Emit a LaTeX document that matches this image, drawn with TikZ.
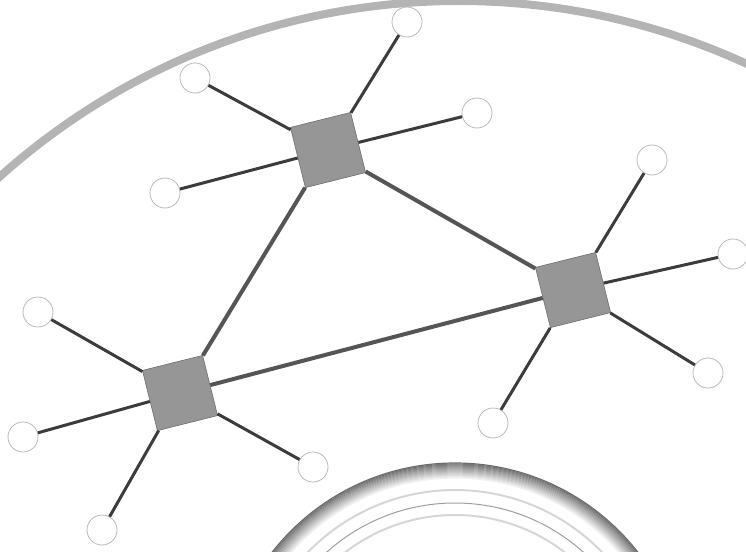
\documentclass[tikz,border=0pt]{standalone}
\usepackage{tikz}
\definecolor{hubgray}{RGB}{150,150,150}
\definecolor{hubedge}{RGB}{110,110,110}
\definecolor{leafedge}{RGB}{185,185,185}
\definecolor{spokegray}{RGB}{60,60,60}
\definecolor{linkgray}{RGB}{85,85,85}
\definecolor{ringgray}{RGB}{180,180,180}

\begin{document}
\begin{tikzpicture}[
  x=1pt, y=-1pt,
  hub/.style={draw=hubedge, fill=hubgray, line width=0.6pt, rotate=14, minimum size=62pt, inner sep=0pt},
  leaf/.style={circle, draw=leafedge, fill=white, line width=0.8pt, minimum size=30pt, inner sep=0pt},
  spoke/.style={draw=spokegray, line width=3pt},
  link/.style={draw=linkgray, line width=4pt}
]
\useasboundingbox (0,0) rectangle (746,551);

% rings behind the network
\begin{scope}
  \clip (0,0) rectangle (746,551);
  \draw[ringgray, line width=8pt] (459,689) circle[radius=688pt];
  \foreach \i in {0,...,15} {
    \pgfmathsetmacro{\shade}{58-3.5*\i}
    \draw[black!\shade, line width=1.2pt] (455,695) circle[radius={(232-\i)*1pt}];
  }
  \draw[black!16, line width=2pt] (455,695) circle[radius=205pt];
  \draw[black!38, line width=1pt] (455,695) circle[radius=192pt];
  \draw[black!16, line width=2pt] (455,695) circle[radius=180pt];
\end{scope}

% hubs
\node[hub] (hubtop) at (328,150) {};
\node[hub] (hubright) at (573,290) {};
\node[hub] (hubleft) at (180,393) {};

% leaves
\node[leaf] (topn) at (407,22) {};
\node[leaf] (topw) at (195,78) {};
\node[leaf] (tope) at (477,113) {};
\node[leaf] (tops) at (165,193) {};
\node[leaf] (rightn) at (652,160) {};
\node[leaf] (righte) at (733,254) {};
\node[leaf] (rights) at (708,373) {};
\node[leaf] (rightw) at (493,423) {};
\node[leaf] (leftn) at (38,312) {};
\node[leaf] (leftw) at (23,437) {};
\node[leaf] (lefts) at (102,530) {};
\node[leaf] (lefte) at (313,467) {};

% links between hubs
\draw[link] (hubtop) -- (hubright);
\draw[link] (hubtop) -- (hubleft);
\draw[link] (hubleft) -- (hubright);

% spokes
\draw[spoke] (hubtop) -- (topn);
\draw[spoke] (hubtop) -- (topw);
\draw[spoke] (hubtop) -- (tope);
\draw[spoke] (hubtop) -- (tops);
\draw[spoke] (hubright) -- (rightn);
\draw[spoke] (hubright) -- (righte);
\draw[spoke] (hubright) -- (rights);
\draw[spoke] (hubright) -- (rightw);
\draw[spoke] (hubleft) -- (leftn);
\draw[spoke] (hubleft) -- (leftw);
\draw[spoke] (hubleft) -- (lefts);
\draw[spoke] (hubleft) -- (lefte);
\end{tikzpicture}
\end{document}
